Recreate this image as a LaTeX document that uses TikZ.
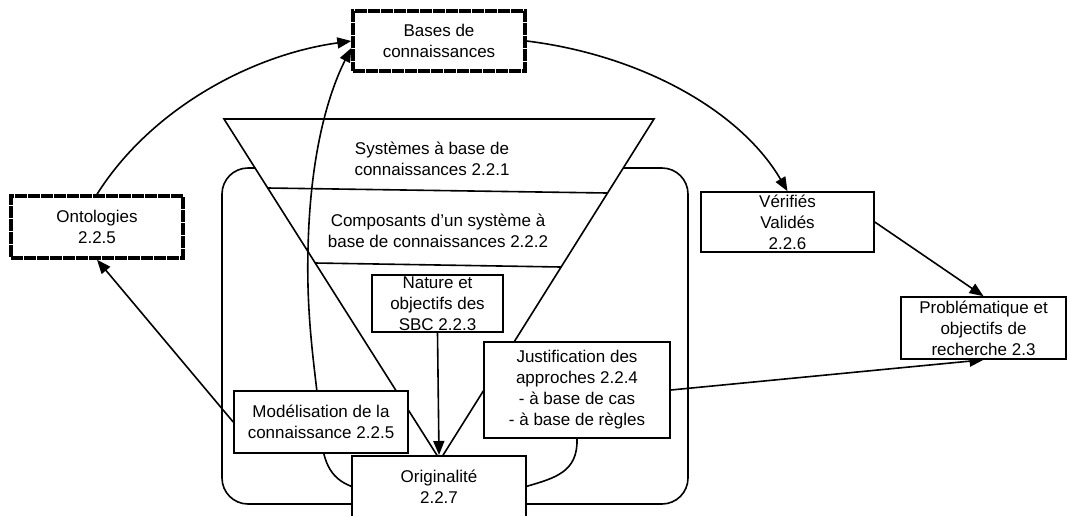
\documentclass[tikz,border=0pt]{standalone}
\usepackage{fontspec}
\setmainfont{Liberation Sans}
\usetikzlibrary{arrows.meta}
\pgfdeclarelayer{back}
\pgfsetlayers{back,main}
\begin{document}
\begin{tikzpicture}[x=1pt,y=-1pt,line width=1.6pt,
  txt/.style={font=\fontsize{17}{21}\selectfont},
  box/.style={txt,draw,fill=white,inner sep=0pt,align=center,line width=1.6pt},
  kbox/.style={box,line width=3.4pt,dash pattern=on 12pt off 1pt},
  tiertext/.style={txt,inner sep=0pt,align=center},
  link/.style={-{Triangle[length=14pt,width=11pt]}},
]
\useasboundingbox (0,0) rectangle (1068,515);

% boxes
\node[kbox,minimum width=172pt,minimum height=60pt] (bases) at (439,41) {Bases de\\connaissances};
\node[kbox,minimum width=172pt,minimum height=62pt] (onto) at (97,227) {Ontologies\\2.2.5};
\node[box,minimum width=173pt,minimum height=60pt] (verif) at (787.5,222) {Vérifiés\\Validés\\2.2.6};
\node[box,minimum width=165pt,minimum height=62pt] (prob) at (983.5,328) {Problématique et\\objectifs de\\recherche 2.3};
\node[box,minimum width=131pt,minimum height=57pt] (nature) at (437.5,303.5) {Nature et\\objectifs des\\SBC 2.2.3};
\node[box,minimum width=186pt,minimum height=96pt] (justif) at (577,390) {Justification des\\approches 2.2.4\\- à base de cas\\- à base de règles};
\node[box,minimum width=174pt,minimum height=62pt] (model) at (321,422) {Modélisation de la\\connaissance 2.2.5};
\node[box,minimum width=174pt,minimum height=61pt,anchor=north] (orig) at (439,455) {Originalité\\2.2.7};

\begin{pgfonlayer}{back}
\begin{scope}[line width=1.6pt]
  % frame and funnel
  \draw[rounded corners=26pt] (222,168) rectangle (688,504);
  \draw[fill=white] (224,119) -- (654,119) -- (440,460) -- cycle;
  \draw (268,188) -- (607,193);
  \draw (315,263) -- (561,267);
  \node[tiertext] (tier1) at (432,159) {Systèmes à base de\\connaissances 2.2.1};
  \node[tiertext] (tier2) at (438,231) {Composants d’un système à\\base de connaissances 2.2.2};

  % connectors
  \draw[link] (bases.east) .. controls (640,55) and (740,110) .. (verif.north);
  \draw[link] (verif.east) -- (prob.north);
  \draw[link] (justif.east) -- (prob.south);
  \draw[link] (model.west) -- (onto.south);
  \draw[link] (onto.north) .. controls (150,110) and (250,55) .. (bases.west);
  \draw[link] (orig.west) .. controls (330,478) and (322,462) .. (320,425)
      .. controls (318,385) and (306,330) .. (308,250)
      .. controls (310,150) and (330,90) .. ([yshift=-7pt]bases.west);
  \draw[link] (nature.south) -- (orig.north);
  \draw (justif.south) .. controls (578,472) and (555,478) .. (orig.east);
\end{scope}
\end{pgfonlayer}
\end{tikzpicture}
\end{document}
